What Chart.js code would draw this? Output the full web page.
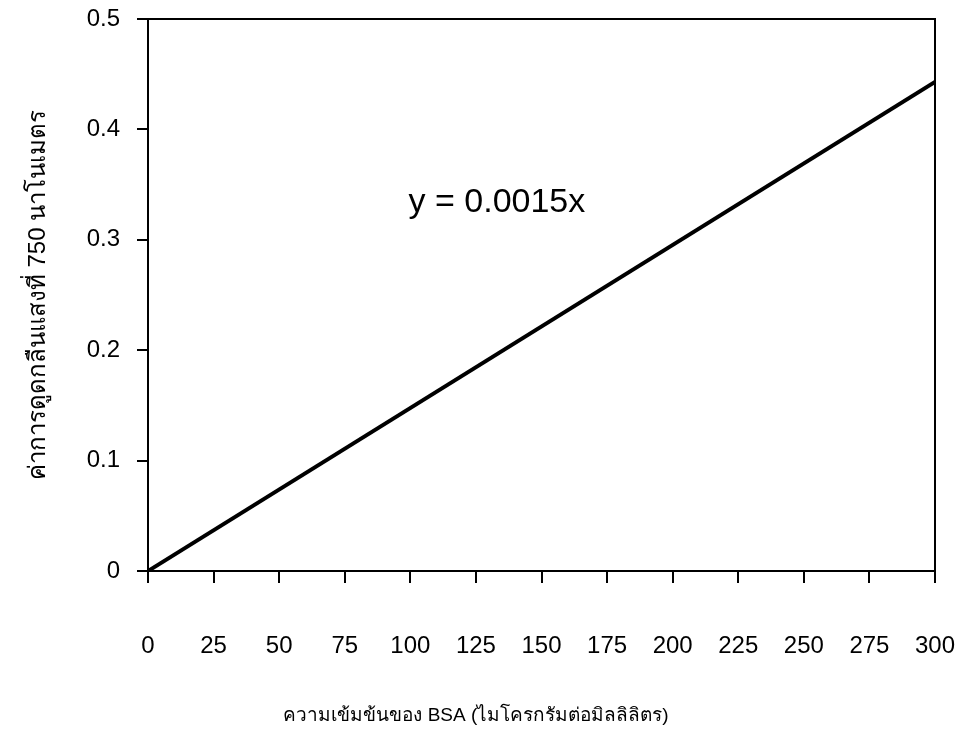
<!DOCTYPE html>
<html>
<head>
<meta charset="utf-8">
<script src="https://cdn.jsdelivr.net/npm/chart.js@4/dist/chart.umd.min.js"></script>
<style>
  body { margin: 0; background: #fff; }
</style>
</head>
<body>
<canvas id="bsaChart" width="962" height="756"></canvas>
<script>
// standard curve data
var concentration = [0, 300];
var absorbance = [0, 0.443];
var xTicks = [0, 25, 50, 75, 100, 125, 150, 175, 200, 225, 250, 275, 300];
var yTicks = [0, 0.1, 0.2, 0.3, 0.4, 0.5];
var equationText = "y = 0.0015x";
var equationAt = [133, 0.334];
var xTitle = "ความเข้มข้นของ BSA (ไมโครกรัมต่อมิลลิลิตร)";
var yTitle = "ค่าการดูดกลืนแสงที่ 750 นาโนเมตร";

var FONT = "'Liberation Sans', Arial, sans-serif";

var points = concentration.map(function (c, i) {
    return { x: c, y: absorbance[i] };
});

// box around the plot + free text
var extras = {
    id: "extras",
    afterDraw: function (chart) {
        var ctx = chart.ctx;
        var a = chart.chartArea;
        ctx.save();
        ctx.strokeStyle = "#000";
        ctx.lineWidth = 2;
        ctx.beginPath();
        ctx.moveTo(a.left, a.top);
        ctx.lineTo(a.right, a.top);
        ctx.lineTo(a.right, a.bottom);
        ctx.stroke();

        ctx.fillStyle = "#000";
        ctx.textAlign = "center";
        ctx.textBaseline = "middle";
        ctx.font = "34px " + FONT;
        ctx.fillText(equationText,
            chart.scales.x.getPixelForValue(equationAt[0]),
            chart.scales.y.getPixelForValue(equationAt[1]));

        ctx.font = "19px " + FONT;
        ctx.fillText(xTitle, 476, 716);
        ctx.restore();
    }
};

var ctx = document.getElementById("bsaChart").getContext("2d");
var bsaChart = new Chart(ctx, {
    type: "scatter",
    data: {
        datasets: [
            {
                label: "BSA",
                data: points,
                showLine: true,
                borderColor: "#000",
                borderWidth: 4,
                pointRadius: 0,
                fill: false,
            },
        ],
    },
    options: {
        responsive: false,
        animation: false,
        layout: { padding: { left: 0, top: 19, right: 27, bottom: 0 } },
        plugins: {
            legend: { display: false },
            tooltip: { enabled: false },
        },
        scales: {
            x: {
                type: "linear",
                min: xTicks[0],
                max: xTicks[xTicks.length - 1],
                afterBuildTicks: function (s) {
                    s.ticks = xTicks.map(function (v) { return { value: v }; });
                },
                afterFit: function (s) {
                    s.height = 185;
                    s.paddingLeft = 0;
                    s.paddingRight = 0;
                },
                grid: {
                    drawOnChartArea: false,
                    drawTicks: true,
                    tickLength: 12,
                    color: "#000",
                    lineWidth: 2,
                },
                border: { display: true, color: "#000", width: 2 },
                ticks: {
                    color: "#000",
                    padding: 49,
                    maxRotation: 0,
                    font: { family: FONT, size: 24 },
                },
            },
            y: {
                min: yTicks[0],
                max: yTicks[yTicks.length - 1],
                afterBuildTicks: function (s) {
                    s.ticks = yTicks.map(function (v) { return { value: v }; });
                },
                afterFit: function (s) {
                    s.width = 148;
                    s.paddingTop = 0;
                    s.paddingBottom = 0;
                },
                grid: {
                    drawOnChartArea: false,
                    drawTicks: true,
                    tickLength: 11,
                    color: "#000",
                    lineWidth: 2,
                },
                border: { display: true, color: "#000", width: 2 },
                ticks: {
                    color: "#000",
                    padding: 17,
                    font: { family: FONT, size: 24 },
                    callback: function (v) { return String(Math.round(v * 10) / 10); },
                },
                title: {
                    display: true,
                    text: yTitle,
                    color: "#000",
                    font: { family: FONT, size: 24 },
                    padding: { top: 24, bottom: 0 },
                },
            },
        },
    },
    plugins: [extras],
});
</script>
</body>
</html>
